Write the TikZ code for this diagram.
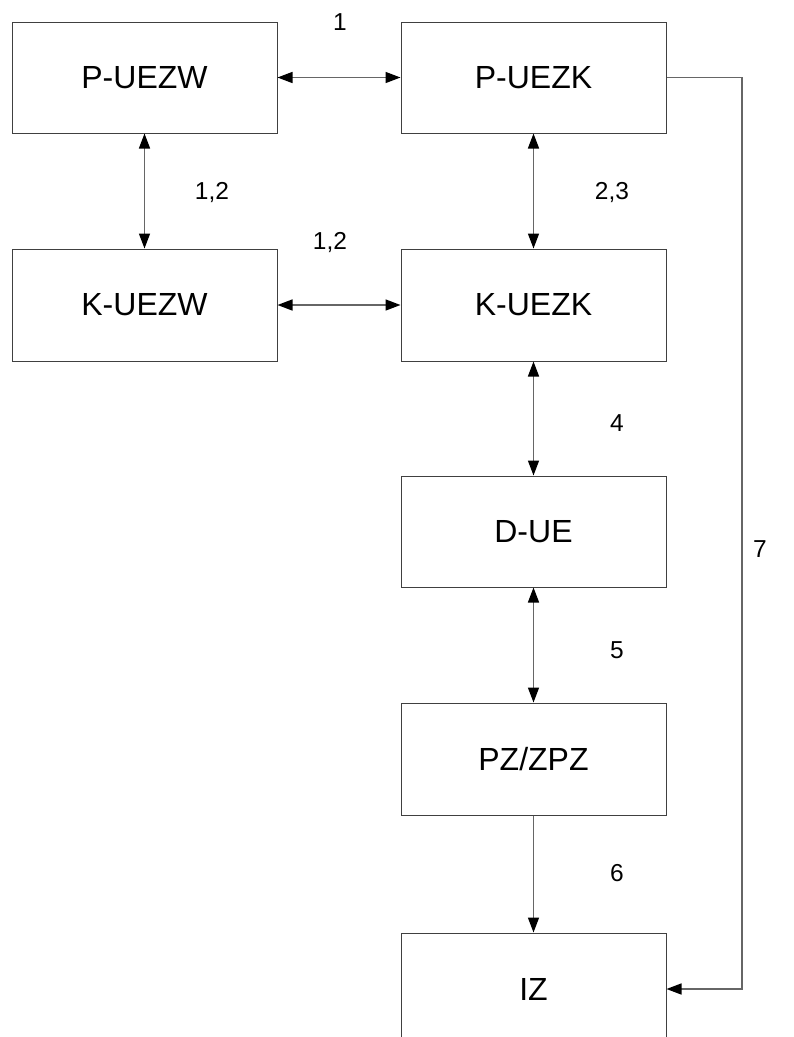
\documentclass[tikz,border=0pt]{standalone}
\usepackage{fontspec}
\setmainfont{Liberation Sans}
\usetikzlibrary{arrows.meta}
\tikzset{
  blk/.style={draw=black!75, line width=1pt, minimum width=265pt, minimum height=111pt, inner sep=0pt, font=\fontsize{32}{38}\selectfont},
  conn/.style={draw=black!60, line width=1.5pt},
  tip/.style={-{Triangle[length=15pt,width=11pt,fill=black,color=black]}},
  bitip/.style={{Triangle[length=15pt,width=11pt,fill=black,color=black]}-{Triangle[length=15pt,width=11pt,fill=black,color=black]}},
  lbl/.style={font=\fontsize{24.5}{29}\selectfont, inner sep=0pt}
}
\begin{document}
\begin{tikzpicture}[x=1pt,y=-1pt]
\useasboundingbox (0,0) rectangle (794,1037);
\clip (0,0) rectangle (794,1037);
\node[blk] (puezw) at (144.5,77.5) {P-UEZW};
\node[blk] (puezk) at (533.5,77.5) {P-UEZK};
\node[blk, minimum height=112pt] (kuezw) at (144.5,305) {K-UEZW};
\node[blk, minimum height=112pt] (kuezk) at (533.5,305) {K-UEZK};
\node[blk] (due) at (533.5,531.5) {D-UE};
\node[blk, minimum height=112pt] (pz) at (533.5,759) {PZ/ZPZ};
\node[blk, minimum height=112pt] (iz) at (533.5,989) {IZ};
\coordinate (c1) at (742,77.5);
\coordinate (c2) at (742,989);
\draw[conn,bitip] (puezw.east) -- (puezk.west);
\draw[conn,bitip] (kuezw.east) -- (kuezk.west);
\draw[conn,bitip] (puezw.south) -- (kuezw.north);
\draw[conn,bitip] (puezk.south) -- (kuezk.north);
\draw[conn,bitip] (kuezk.south) -- (due.north);
\draw[conn,bitip] (due.south) -- (pz.north);
\draw[conn,tip] (pz.south) -- (iz.north);
\draw[conn,tip] (puezk.east) -- (c1) -- (c2) -- (iz.east);
\node[lbl] (l1) at (340,22) {1};
\node[lbl] (l12a) at (212,193) {1,2};
\node[lbl] (l12b) at (330,243) {1,2};
\node[lbl] (l23) at (612,193) {2,3};
\node[lbl] (l4) at (617,423) {4};
\node[lbl] (l5) at (617,650) {5};
\node[lbl] (l6) at (617,873) {6};
\node[lbl] (l7) at (760,549) {7};
\end{tikzpicture}
\end{document}
